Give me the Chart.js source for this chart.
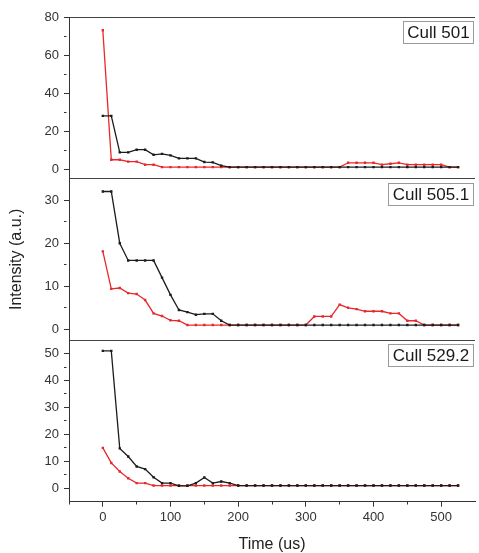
<!DOCTYPE html>
<html lang="en">
<head>
<meta charset="UTF-8">
<title>Intensity vs Time</title>
<script src="https://cdn.jsdelivr.net/npm/chart.js@4.4.0/dist/chart.umd.min.js"></script>
<style>
  body { margin: 0; background: #fff; }
  #wrap { width: 479px; height: 553px; }
</style>
</head>
<body>
<div id="wrap"><canvas id="intensityChart" width="479" height="553"></canvas></div>
<script>
// sample times (us), shared by every trace
const timeUs = [0, 12.5, 25, 37.5, 50, 62.5, 75, 87.5, 100, 112.5, 125, 137.5, 150, 162.5, 175, 187.5,
  200, 212.5, 225, 237.5, 250, 262.5, 275, 287.5, 300, 312.5, 325, 337.5, 350, 362.5, 375, 387.5,
  400, 412.5, 425, 437.5, 450, 462.5, 475, 487.5, 500, 512.5, 525];

// Cull 501
const cull501Black = [28, 28, 8.8, 8.8, 10.2, 10.2, 7.5, 8, 7.2, 5.6, 5.6, 5.6, 3.7, 3.5, 1.8, 1,
  1, 1, 1, 1, 1, 1, 1, 1, 1, 1, 1, 1, 1, 1, 1, 1, 1, 1, 1, 1, 1, 1, 1, 1, 1, 1, 1];
const cull501Red = [73, 4.9, 4.9, 3.9, 3.9, 2.3, 2.3, 1, 1, 1, 1, 1, 1, 1, 1, 1,
  1, 1, 1, 1, 1, 1, 1, 1, 1, 1, 1, 1, 1, 3.3, 3.3, 3.3, 3.3, 2.3, 2.8, 3.3, 2.3, 2.3, 2.3, 2.3, 2.3, 1, 1];

// Cull 505.1
const cull505Black = [32, 32, 20, 16, 16, 16, 16, 12, 8, 4.5, 4, 3.4, 3.6, 3.6, 2, 1,
  1, 1, 1, 1, 1, 1, 1, 1, 1, 1, 1, 1, 1, 1, 1, 1, 1, 1, 1, 1, 1, 1, 1, 1, 1, 1, 1];
const cull505Red = [18.1, 9.4, 9.6, 8.4, 8.2, 6.8, 3.7, 3.1, 2.1, 2, 1, 1, 1, 1, 1, 1,
  1, 1, 1, 1, 1, 1, 1, 1, 1, 3, 3, 3, 5.75, 5, 4.7, 4.2, 4.2, 4.2, 3.7, 3.7, 2, 2, 1, 1, 1, 1, 1];

// Cull 529.2
const cull529Black = [51, 51, 14.8, 11.8, 8.1, 7.1, 4.1, 1.9, 1.9, 0.9, 0.9, 1.9, 4, 1.9, 2.5, 1.9,
  1, 1, 1, 1, 1, 1, 1, 1, 1, 1, 1, 1, 1, 1, 1, 1, 1, 1, 1, 1, 1, 1, 1, 1, 1, 1, 1];
const cull529Red = [15, 9.4, 6.2, 3.7, 1.9, 1.9, 1, 1, 1, 1, 1, 1, 1, 1, 1, 1,
  1, 1, 1, 1, 1, 1, 1, 1, 1, 1, 1, 1, 1, 1, 1, 1, 1, 1, 1, 1, 1, 1, 1, 1, 1, 1, 1];

const panelNames = ['Cull 501', 'Cull 505.1', 'Cull 529.2'];

// tick marks: labelled majors, short unlabelled minors
const xMajorTicks = [0, 100, 200, 300, 400, 500];
const xMinorTicks = [-50, 50, 150, 250, 350, 450];
const y1MajorTicks = [0, 20, 40, 60, 80];
const y1MinorTicks = [10, 30, 50, 70];
const y2MajorTicks = [0, 10, 20, 30];
const y2MinorTicks = [5, 15, 25];
const y3MajorTicks = [0, 10, 20, 30, 40, 50];
const y3MinorTicks = [5, 15, 25, 35, 45];

const FONT = '"Liberation Sans", Arial, sans-serif';
const RED = '#e8282b';
const BLACK = '#1c1c1c';

function points(ys) {
  return timeUs.map((t, i) => ({ x: t, y: ys[i] }));
}

function trace(ys, color, axis, order) {
  return {
    data: points(ys),
    yAxisID: axis,
    borderColor: color,
    backgroundColor: color,
    borderWidth: 1.3,
    pointStyle: 'rect',
    pointRadius: 1.7,
    pointBorderWidth: 0,
    tension: 0,
    order: order
  };
}

function tickList(major, minor, extra) {
  const vals = major.concat(minor, extra);
  return vals.filter((v, i) => vals.indexOf(v) === i).sort((a, b) => a - b).map(v => ({ value: v }));
}

function panelAxis(major, minor, min, max, weight, title) {
  return {
    type: 'linear',
    position: 'left',
    stack: 'panels',
    stackWeight: 1,
    weight: weight,
    min: min,
    max: max,
    afterBuildTicks: s => { s.ticks = tickList(major, minor, [max]); },
    afterFit: s => { s.width = 69; },
    border: { color: '#333', width: 1 },
    grid: {
      drawOnChartArea: true,
      // only the top edge of each panel gets a line across
      color: c => (c.tick && c.tick.value === max) ? '#444' : 'transparent',
      lineWidth: 1,
      tickLength: 5,
      tickWidth: 1,
      tickColor: c => (major.includes(c.tick.value) || minor.includes(c.tick.value)) ? '#333' : 'transparent',
      tickBorderDash: c => minor.includes(c.tick.value) ? [2.5, 20] : []
    },
    ticks: {
      autoSkip: false,
      padding: 5,
      color: '#333',
      font: { family: FONT, size: 13 },
      callback: v => major.includes(v) ? String(v) : ''
    },
    title: {
      display: !!title,
      text: title || '',
      color: '#222',
      font: { family: FONT, size: 16, lineHeight: 1 },
      padding: { top: 9, bottom: 0 }
    }
  };
}

// boxed sample name in the top right corner of each panel
const panelTags = {
  id: 'panelTags',
  afterDatasetsDraw(chart) {
    const ctx = chart.ctx;
    const right = chart.chartArea.right - 2.5;
    ctx.save();
    ctx.font = '17px ' + FONT;
    ['y1', 'y2', 'y3'].forEach((id, i) => {
      const s = chart.scales[id];
      const name = panelNames[i];
      const w = Math.round(ctx.measureText(name).width + 8);
      const x = Math.round(right - w) + 0.5;
      const y = Math.round(s.top + 4) + 0.5;
      ctx.fillStyle = '#fff';
      ctx.fillRect(x, y, w, 22);
      ctx.strokeStyle = '#9a9a9a';
      ctx.lineWidth = 1;
      ctx.strokeRect(x, y, w, 22);
      ctx.fillStyle = '#1a1a1a';
      ctx.textAlign = 'center';
      ctx.textBaseline = 'middle';
      ctx.fillText(name, x + w / 2, y + 11.5);
    });
    ctx.restore();
  }
};

new Chart(document.getElementById('intensityChart'), {
  type: 'line',
  data: {
    datasets: [
      trace(cull501Red, RED, 'y1', 1),
      trace(cull501Black, BLACK, 'y1', 0),
      trace(cull505Red, RED, 'y2', 1),
      trace(cull505Black, BLACK, 'y2', 0),
      trace(cull529Red, RED, 'y3', 1),
      trace(cull529Black, BLACK, 'y3', 0)
    ]
  },
  options: {
    responsive: false,
    animation: false,
    layout: { padding: { top: 17, left: 0, right: 0, bottom: 0 } },
    plugins: { legend: { display: false }, tooltip: { enabled: false } },
    scales: {
      x: {
        type: 'linear',
        position: 'bottom',
        min: -50,
        max: 550,
        afterBuildTicks: s => { s.ticks = tickList(xMajorTicks, xMinorTicks, []); },
        afterFit: s => { s.height = 51.3; },
        border: { color: '#333', width: 1 },
        grid: {
          drawOnChartArea: false,
          tickLength: 5,
          tickWidth: 1,
          tickColor: '#333',
          tickBorderDash: c => xMinorTicks.includes(c.tick.value) ? [2.5, 20] : []
        },
        ticks: {
          autoSkip: false,
          maxRotation: 0,
          padding: 3,
          color: '#333',
          font: { family: FONT, size: 13 },
          callback: v => xMajorTicks.includes(v) ? String(v) : ''
        },
        title: {
          display: true,
          text: 'Time (us)',
          color: '#222',
          font: { family: FONT, size: 16, lineHeight: 1 },
          padding: { top: 0, bottom: 0 }
        }
      },
      y1: panelAxis(y1MajorTicks, y1MinorTicks, -5, 80, 3, null),
      y2: panelAxis(y2MajorTicks, y2MinorTicks, -2.5, 35, 2, 'Intensity (a.u.)'),
      y3: panelAxis(y3MajorTicks, y3MinorTicks, -5, 55, 1, null)
    }
  },
  plugins: [panelTags]
});
</script>
</body>
</html>
